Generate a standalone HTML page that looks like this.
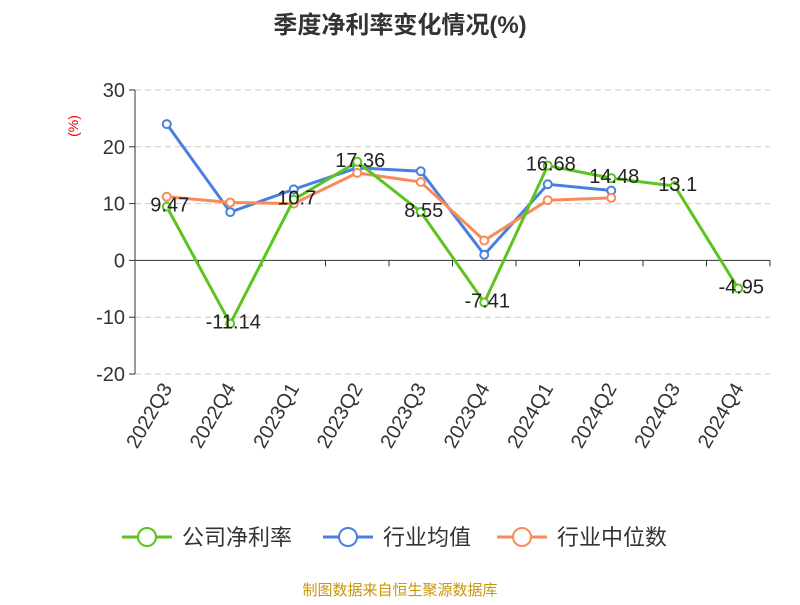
<!DOCTYPE html>
<html><head><meta charset="utf-8"><style>
body{margin:0;background:#fff;font-family:"Liberation Sans","Noto Sans CJK SC",sans-serif;}
</style></head><body>
<svg id="c" width="800" height="600" xmlns="http://www.w3.org/2000/svg" font-family="Liberation Sans, Noto Sans CJK SC, sans-serif"></svg>
<script>
const categories=["2022Q3","2022Q4","2023Q1","2023Q2","2023Q3","2023Q4","2024Q1","2024Q2","2024Q3","2024Q4"];
const company=[9.47,-11.14,10.7,17.36,8.55,-7.41,16.68,14.48,13.1,-4.95];
const industryAvg=[24.0,8.5,12.5,16.3,15.7,1.0,13.4,12.3,null,null];
const industryMedian=[11.2,10.2,10.0,15.4,13.8,3.5,10.6,11.0,null,null];
const yTicks=[30,20,10,0,-10,-20];
const svg=document.getElementById('c');
const NS='http://www.w3.org/2000/svg';
const x0=135,x1=770,yTop=90,yBot=374;
function xs(i){return x0+(x1-x0)/categories.length*(i+0.5);}
function ys(v){return yTop+(30-v)/50*(yBot-yTop);}
function el(t,a,txt){const e=document.createElementNS(NS,t);for(const k in a)e.setAttribute(k,a[k]);if(txt!=null)e.textContent=txt;svg.appendChild(e);return e;}
let e=el('text',{x:400,y:33,'text-anchor':'middle','font-size':24,'font-weight':'bold',fill:'#333'},'季度净利率变化情况(%)');


e=el('text',{x:78,y:126,'text-anchor':'middle','font-size':14,fill:'#e00',transform:'rotate(-90 78 126)'},'(%)');


yTicks.forEach(v=>{
  const y=ys(v);
  if(v!==0){e=el('line',{x1:x0,x2:x1,y1:y,y2:y,stroke:'#ccc','stroke-dasharray':'6,4'});
  
  }
  el('line',{x1:x0-6,x2:x0,y1:y,y2:y,stroke:'#333'});
  e=el('text',{x:x0-10,y:y+7,'text-anchor':'end','font-size':20,fill:'#333'},String(v));
  
  
});
e=el('line',{x1:x0,x2:x0,y1:yTop,y2:yBot,stroke:'#333'});


e=el('line',{x1:x0,x2:x1,y1:ys(0),y2:ys(0),stroke:'#333'});


for(let i=0;i<=categories.length;i++){const x=x0+(x1-x0)/categories.length*i;el('line',{x1:x,x2:x,y1:ys(0),y2:ys(0)+6,stroke:'#333'});}
categories.forEach((c,i)=>{
  const x=xs(i)+6,y=388;
  e=el('text',{x:x,y:y,'text-anchor':'end','font-size':20,fill:'#333',transform:`rotate(-60 ${x} ${y})`},c);
  
  
});
function series(data,color,name){
  let d='';data.forEach((v,i)=>{if(v==null)return;d+=(d?'L':'M')+xs(i)+','+ys(v);});
  e=el('path',{d:d,fill:'none',stroke:color,'stroke-width':3});
  
  
  data.forEach((v,i)=>{if(v==null)return;
    e=el('circle',{cx:xs(i),cy:ys(v),r:4,fill:'#fff',stroke:color,'stroke-width':2});
    
    
  });
}
series(industryAvg,'#4a7fe0','industry-avg');
series(industryMedian,'#f98b5a','industry-median');
series(company,'#5bc41e','company');
company.forEach((v,i)=>{
  e=el('text',{x:xs(i)+3,y:ys(v)+5,'text-anchor':'middle','font-size':20,fill:'#222'},String(v));
  
  
});
const legend=[['公司净利率','#5bc41e',122],['行业均值','#4a7fe0',323],['行业中位数','#f98b5a',497]];
legend.forEach(([t,c,x])=>{
  el('line',{x1:x,x2:x+50,y1:537,y2:537,stroke:c,'stroke-width':3});
  el('circle',{cx:x+25,cy:537,r:9,fill:'#fff',stroke:c,'stroke-width':2});
  e=el('text',{x:x+60,y:545,'font-size':22,fill:'#333'},t);
  
  
});
e=el('text',{x:400,y:595,'text-anchor':'middle','font-size':15,fill:'#c8960a'},'制图数据来自恒生聚源数据库');


</script>
</body></html>
